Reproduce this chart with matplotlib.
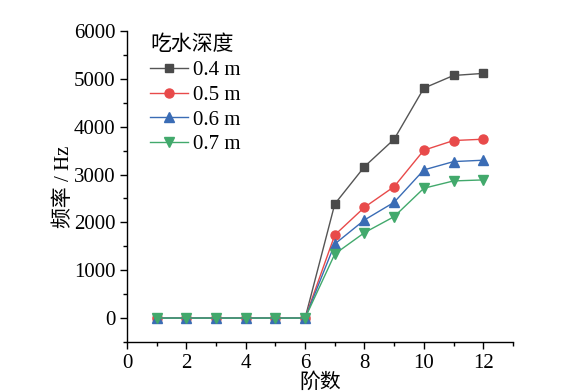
import matplotlib
matplotlib.use("Agg")
import matplotlib.pyplot as plt
from matplotlib.ticker import MultipleLocator

plt.rcParams['font.family'] = ['Liberation Serif', 'Noto Sans CJK SC']
plt.rcParams['mathtext.fontset'] = 'stix'

orders = [1, 2, 3, 4, 5, 6, 7, 8, 9, 10, 11, 12]
freq_04 = [0, 0, 0, 0, 0, 0, 2385, 3165, 3738, 4805, 5070, 5113]
freq_05 = [0, 0, 0, 0, 0, 0, 1736, 2315, 2747, 3508, 3710, 3738]
freq_06 = [0, 0, 0, 0, 0, 0, 1548, 2050, 2420, 3096, 3270, 3299]
freq_07 = [0, 0, 0, 0, 0, 0, 1339, 1785, 2120, 2713, 2866, 2887]
labels = ['0.4 m', '0.5 m', '0.6 m', '0.7 m']

fig = plt.figure(figsize=(5.75, 3.92), dpi=100)
ax = fig.add_axes([0.2209, 0.1276, 0.892 - 0.2209, 0.921 - 0.1276])

styles = [
    (freq_04, '#4a4a4a', '#555555', 's', 5.5),
    (freq_05, '#e84a4a', '#e84a4a', 'o', 6.5),
    (freq_06, '#3a6cb5', '#3a6cb5', '^', 6.5),
    (freq_07, '#42a96c', '#42a96c', 'v', 6.5),
]
for (vals, mc, lc, m, ms), lab in zip(styles, labels):
    ax.plot(orders, vals, color=lc, lw=1.0, marker=m, markersize=ms,
            markerfacecolor=mc, markeredgecolor=mc, label=lab)

ax.set_xlim(0, 13)
ax.set_ylim(-500, 6000)
ax.xaxis.set_major_locator(MultipleLocator(2))
ax.xaxis.set_minor_locator(MultipleLocator(1))
ax.yaxis.set_major_locator(MultipleLocator(1000))
ax.yaxis.set_minor_locator(MultipleLocator(500))
ax.spines['top'].set_visible(False)
ax.spines['right'].set_visible(False)
for s in ['left', 'bottom']:
    ax.spines[s].set_linewidth(1.0)
ax.tick_params(axis='both', which='major', direction='out', length=5, width=1, labelsize=15)
ax.tick_params(axis='both', which='minor', direction='out', length=3, width=1)

ax.set_xlabel('阶数', fontsize=15, labelpad=0)
ax.set_ylabel('频率 / Hz', fontsize=15, labelpad=0)

leg = ax.legend(title='吃水深度', loc='upper left', bbox_to_anchor=(0.06, 0.985),
                frameon=False, fontsize=15, title_fontsize=15,
                handlelength=1.8, handletextpad=0.25, labelspacing=0.25,
                borderaxespad=0.0, borderpad=0.0)
leg._legend_box.align = 'left'

fig.savefig('out.png', dpi=100)
